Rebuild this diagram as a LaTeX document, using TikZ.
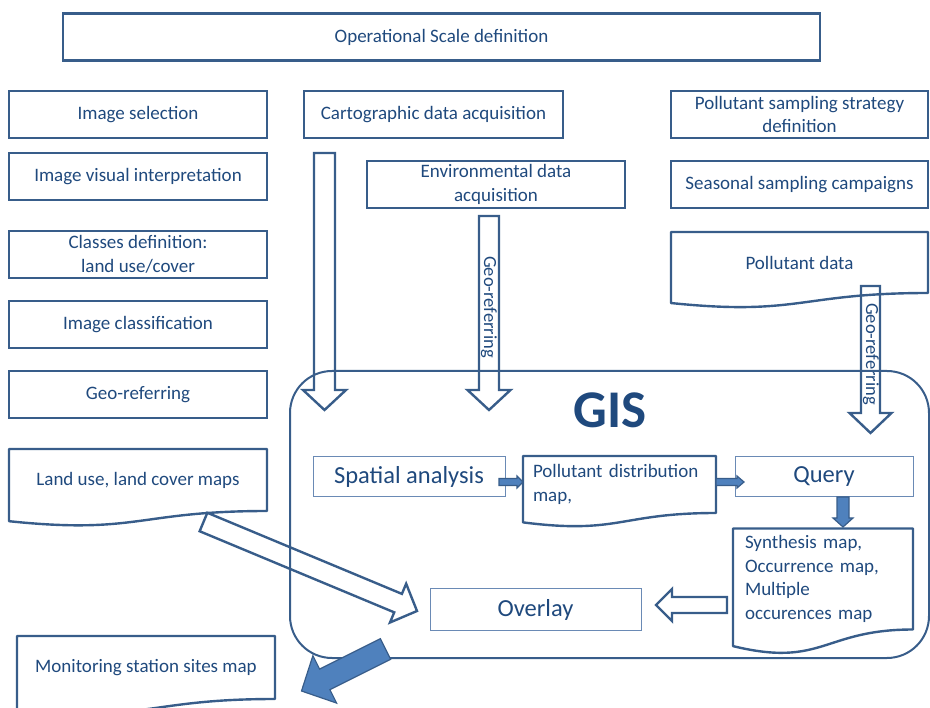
\documentclass[tikz,border=0pt]{standalone}
\usepackage{fontspec}
\setmainfont{Carlito}
\usetikzlibrary{calc}
\definecolor{lineblue}{HTML}{385D8A}
\definecolor{fillblue}{HTML}{4F81BD}
\definecolor{txtblue}{HTML}{1F497D}
\definecolor{thinblue}{HTML}{6A8AB5}
% block arrow: [style] tail, tip, shaft half width, head half width, head length
\newcommand\blockarrow[6][]{%
  \coordinate (ba-hb) at ($(#3)!#6!(#2)$);
  \draw[#1] ($(#2)!#4!90:(#3)$) -- ($(ba-hb)!#4!90:(#3)$) -- ($(ba-hb)!#5!90:(#3)$)
    -- (#3) -- ($(ba-hb)!#5!-90:(#3)$) -- ($(ba-hb)!#4!-90:(#3)$) -- ($(#2)!#4!-90:(#3)$) -- cycle;}
% document outline around a node whose height is #2
\newcommand\docoutline[2]{%
  \draw[docline] (#1.north west) -- (#1.north east) -- (#1.south east)
    .. controls (#1.south) and ($(#1.south)+(0,{0.381*#2})$) .. ($(#1.south west)+(0,{0.1645*#2})$) -- cycle;}
\begin{document}
\begin{tikzpicture}[x=1pt,y=-1pt,
  box/.style={rectangle, draw=lineblue, line width=2.4pt, text=txtblue,
    font=\fontsize{19}{23.5}\selectfont, align=center, inner sep=0pt, outer sep=0pt},
  docbox/.style={box, draw=none},
  docline/.style={draw=lineblue, line width=2.4pt, line join=round},
  thinbox/.style={rectangle, draw=thinblue, line width=1pt, text=txtblue,
    font=\fontsize{24.5}{28}\selectfont, inner sep=0pt, outer sep=0pt},
  hollow/.style={draw=lineblue, line width=2.4pt, line join=miter},
  solidarrow/.style={draw=lineblue, fill=fillblue, line width=1.2pt, line join=miter},
  geolabel/.style={text=txtblue, font=\fontsize{18.5}{20}\selectfont, inner sep=0pt}]
\useasboundingbox (0,0) rectangle (930,708);

% top and left column
\node[box, minimum width=757, minimum height=47] (op) at (441.5,37) {Operational Scale definition};
\node[box, minimum width=258, minimum height=47] (imgsel) at (138,114.5) {Image selection};
\node[box, minimum width=258, minimum height=47] (imgvis) at (138,176.5) {Image visual interpretation};
\node[box, minimum width=258, minimum height=47] (classes) at (138,254.5) {Classes definition:\\land use/cover};
\node[box, minimum width=258, minimum height=47] (imgclass) at (138,324.5) {Image classification};
\node[box, minimum width=258, minimum height=47] (georef) at (138,394.5) {Geo-referring};
\node[docbox, minimum width=258, minimum height=62] (land) at (138,480) {Land use, land cover maps};
\docoutline{land}{62}

% middle
\node[box, minimum width=259, minimum height=47] (carto) at (433.5,114.5) {Cartographic data acquisition};
\node[box, minimum width=258, minimum height=47] (env) at (496,184.5) {Environmental data\\acquisition};

% right column
\node[box, minimum width=257, minimum height=47] (pss) at (799.5,114.5) {Pollutant sampling strategy\\definition};
\node[box, minimum width=257, minimum height=47] (season) at (799.5,184.5) {Seasonal sampling campaigns};
\node[docbox, minimum width=257, minimum height=61] (pdata) at (799.5,262.5) {Pollutant data};
\docoutline{pdata}{61}

% hollow arrows into GIS
\coordinate (cartoTail) at (324.5,153);
\coordinate (cartoTip) at (324.5,410);
\blockarrow[hollow]{cartoTail}{cartoTip}{10.5pt}{21.5pt}{20pt}
\coordinate (envTail) at (489,216);
\coordinate (envTip) at (489,410);
\blockarrow[hollow]{envTail}{envTip}{10pt}{21.5pt}{20pt}
\coordinate (pdTail) at (870.5,286);
\coordinate (pdTip) at (870.5,433);
\blockarrow[hollow]{pdTail}{pdTip}{9.5pt}{21pt}{20pt}
\node[geolabel, rotate=-90] (geo1) at (489,307) {Geo-referring};
\node[geolabel, rotate=-90] (geo2) at (871,354) {Geo-referring};

% GIS frame
\node[rectangle, draw=lineblue, line width=2pt, rounded corners=42pt,
  minimum width=639, minimum height=287, inner sep=0pt, outer sep=0pt] (gis) at (609.5,514.5) {};
\node[text=txtblue, font=\fontsize{53}{56}\selectfont\bfseries, inner sep=0pt] (gislabel) at (610,410) {GIS};

% inside GIS
\node[thinbox, minimum width=192, minimum height=40] (spatial) at (409,477) {Spatial analysis};
\node[docbox, minimum width=193, minimum height=57, inner xsep=10pt, text width=173pt, align=left] (pdist) at (619.5,484.5) {Pollutant distribution\\map,};
\docoutline{pdist}{57}
\node[thinbox, minimum width=178, minimum height=40] (query) at (824,477) {Query};
\node[docbox, minimum width=180, minimum height=101, inner xsep=12pt, text width=156pt, align=left] (synth) at (823,579) {Synthesis map,\\Occurrence map,\\Multiple\\occurences map};
\docoutline{synth}{101}
\node[thinbox, minimum width=211, minimum height=41] (overlay) at (535.5,609.5) {Overlay};

% small filled arrows
\coordinate (a1Tail) at (499,482);
\coordinate (a1Tip) at (pdist.west |- a1Tail);
\blockarrow[solidarrow]{a1Tail}{a1Tip}{3.5pt}{6pt}{6pt}
\coordinate (a2Tail) at (pdist.east |- a1Tail);
\coordinate (a2Tip) at (744,482);
\blockarrow[solidarrow]{a2Tail}{a2Tip}{3.5pt}{6pt}{7pt}
\coordinate (a3Tail) at (843,497);
\coordinate (a3Tip) at (843,527);
\blockarrow[solidarrow]{a3Tail}{a3Tip}{6pt}{10pt}{9pt}

% synthesis -> overlay, land use -> overlay
\coordinate (syTail) at (727,605);
\coordinate (syTip) at (656,605);
\blockarrow[hollow]{syTail}{syTip}{8pt}{16pt}{16pt}
\coordinate (luTail) at (203.5,522);
\coordinate (luTip) at (417,611);
\blockarrow[hollow]{luTail}{luTip}{10pt}{21pt}{20.5pt}

% monitoring
\node[docbox, minimum width=258, minimum height=63] (monit) at (146,667.5) {Monitoring station sites map};
\docoutline{monit}{63}
\coordinate (bigTail) at (385.5,649);
\coordinate (bigTip) at (301.5,691);
\blockarrow[solidarrow]{bigTail}{bigTip}{11.5pt}{26.5pt}{26pt}
\end{tikzpicture}
\end{document}
